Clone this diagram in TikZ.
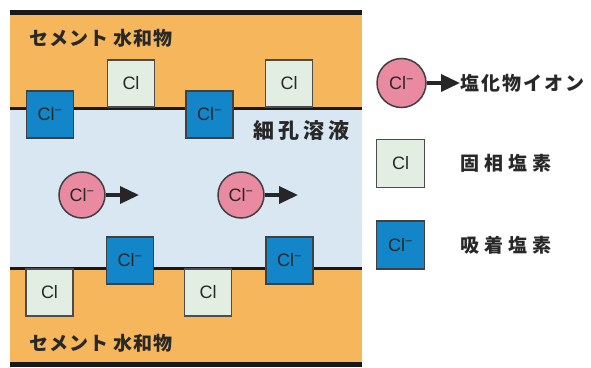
\documentclass[tikz,border=0pt]{standalone}
\usepackage{fontspec}
\setmainfont{Noto Sans CJK JP}
\newfontfamily\clfont{Liberation Sans}
\usetikzlibrary{arrows.meta}
\definecolor{cement}{RGB}{246,183,92}
\definecolor{pore}{RGB}{217,231,243}
\definecolor{solidfill}{RGB}{226,238,226}
\definecolor{adsfill}{RGB}{18,134,200}
\definecolor{ionfill}{RGB}{234,138,160}
\definecolor{txt}{RGB}{40,40,40}
\begin{document}
\begin{tikzpicture}[x=1pt,y=-1pt,
  solidbox/.style={draw=black!70,line width=1.5pt,fill=solidfill,minimum size=47pt,inner sep=0pt,
    font=\clfont\fontsize{18}{18}\selectfont,text=txt},
  adsbox/.style={draw=black!75,line width=1.5pt,fill=adsfill,minimum size=47pt,inner sep=0pt,
    font=\clfont\fontsize{18}{18}\selectfont,text=txt},
  ion/.style={circle,draw=black!75,line width=1.5pt,fill=ionfill,minimum size=46pt,inner sep=0pt,
    font=\clfont\fontsize{18}{18}\selectfont,text=txt},
  mv/.style={line width=3.5pt,-{Triangle[length=19pt,width=17pt]},black!85},
  jtxt/.style={font=\bfseries\fontsize{19}{19}\selectfont,text=txt,anchor=west,inner sep=0pt},
  bound/.style={black!90}]
\useasboundingbox (0,0) rectangle (591,367);
\fill[cement] (10,12) rectangle (362,108);
\fill[pore] (10,108) rectangle (362,268);
\fill[cement] (10,268) rectangle (362,362);
\draw[bound,line width=5pt] (10,12.5) -- (362,12.5);
\draw[bound,line width=3pt] (10,108) -- (362,108);
\draw[bound,line width=3pt] (10,268) -- (362,268);
\draw[bound,line width=5pt] (10,364.5) -- (362,364.5);
% top surface
\node[adsbox] (ta1) at (50,114.5) {Cl\textsuperscript{−}};
\node[solidbox] (ts1) at (131,83.5) {Cl};
\node[adsbox] (ta2) at (209.5,114.5) {Cl\textsuperscript{−}};
\node[solidbox] (ts2) at (289,83.5) {Cl};
% bottom surface
\node[solidbox] (bs1) at (49.5,292.5) {Cl};
\node[adsbox] (ba1) at (130,260.5) {Cl\textsuperscript{−}};
\node[solidbox] (bs2) at (208,292.5) {Cl};
\node[adsbox] (ba2) at (289.5,260.5) {Cl\textsuperscript{−}};
% ions in pore solution
\node[ion] (i1) at (82,195) {Cl\textsuperscript{−}};
\coordinate (i1e) at (139,195);
\draw[mv] (i1) -- (i1e);
\node[ion] (i2) at (241,195) {Cl\textsuperscript{−}};
\coordinate (i2e) at (298,195);
\draw[mv] (i2) -- (i2e);
% labels
\node[jtxt] (ct) at (29,38) {セ\kern1pt メ\kern1pt ン\kern1pt ト\kern1pt\ 水\kern1pt 和\kern1pt 物};
\node[jtxt] (cb) at (29,343) {セ\kern1pt メ\kern1pt ン\kern1pt ト\kern1pt\ 水\kern1pt 和\kern1pt 物};
\node[jtxt,font=\bfseries\fontsize{21}{21}\selectfont] (pl) at (253,131) {細\kern4pt 孔\kern4pt 溶\kern4pt 液};
% legend
\node[ion,minimum size=49pt] (li) at (401.5,83) {Cl\textsuperscript{−}};
\node[jtxt] (lit) at (460,83) {塩\kern2pt 化\kern2pt 物\kern2pt イ\kern2pt オ\kern2pt ン};
\draw[mv] (li) -- (lit);
\node[solidbox,minimum size=48pt] (ls) at (400.5,163.5) {Cl};
\node[jtxt] (lst) at (460,163.5) {固\kern5pt 相\kern5pt 塩\kern5pt 素};
\node[adsbox,minimum size=48pt] (la) at (400.5,245) {Cl\textsuperscript{−}};
\node[jtxt] (lat) at (460,245) {吸\kern5pt 着\kern5pt 塩\kern5pt 素};
\end{tikzpicture}
\end{document}
